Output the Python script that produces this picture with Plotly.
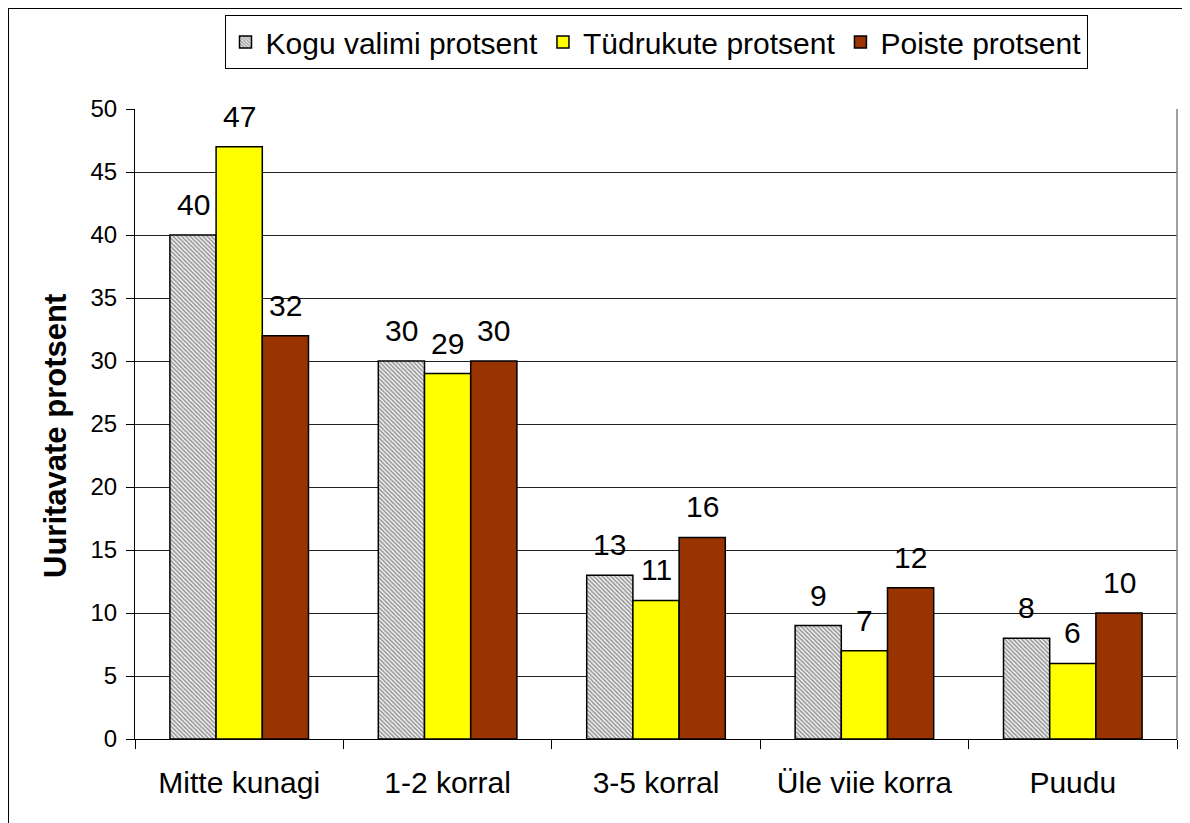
import plotly.graph_objects as go

categories = ['Mitte kunagi', '1-2 korral', '3-5 korral', 'Üle viie korra', 'Puudu']
kogu = [40, 30, 13, 9, 8]
tudrukud = [47, 29, 11, 7, 6]
poisid = [32, 30, 16, 12, 10]
y_ticks = [0, 5, 10, 15, 20, 25, 30, 35, 40, 45, 50]

FONT = "Liberation Sans, Arial, sans-serif"

# page has an 8px body margin, so the figure sits at (8, 8)
W, H = 1182, 815
L, R, T, B = 127, 13, 101, 84
pw, ph = W - L - R, H - T - B
BARGAP = 0.335

series = [
    ('Kogu valimi protsent', kogu, '#d0d0d0',
     dict(shape='\\', fgcolor='#333333', bgcolor='#f4f4f4', size=3, solidity=0.5)),
    ('Tüdrukute protsent', tudrukud, '#ffff00', None),
    ('Poiste protsent', poisid, '#993300', None),
]

fig = go.Figure()
bw = (1 - BARGAP) / len(series)
for j, (name, values, color, pattern) in enumerate(series):
    marker = dict(color=color, line=dict(color='black', width=1.5))
    if pattern:
        marker['pattern'] = pattern
    fig.add_trace(go.Bar(x=categories, y=values, name=name, marker=marker))
    # value labels above each bar
    for i, v in enumerate(values):
        fig.add_annotation(x=i + (j - 1) * bw, y=v, xref='x', yref='y',
                           text=str(v), showarrow=False, yanchor='bottom',
                           yshift=12, font=dict(size=30, color='black'))

# y axis title (Excel puts it a bit below the middle)
fig.add_annotation(x=(47 - L) / pw, y=1 - (428 - T) / ph, xref='paper', yref='paper',
                   xanchor='center', yanchor='middle',
                   text='<b>Uuritavate protsent</b>', textangle=-90, showarrow=False,
                   font=dict(size=31, color='black'))

fig.update_layout(
    width=W, height=H,
    margin=dict(l=L, r=R, t=T, b=B),
    paper_bgcolor='white', plot_bgcolor='white',
    barmode='group', bargap=BARGAP, bargroupgap=0,
    font=dict(family=FONT, color='black'),
    legend=dict(
        orientation='h', x=0.5, xanchor='center',
        yref='container', y=1 - 7 / H, yanchor='top',
        bordercolor='black', borderwidth=1, bgcolor='white',
        font=dict(size=30, family=FONT),
        traceorder='normal',
    ),
    shapes=[dict(type='rect', xref='paper', yref='paper',
                 x0=-L / pw, x1=1 + (R + 20) / pw, y0=-(B + 20) / ph, y1=1 + T / ph,
                 line=dict(color='black', width=2), fillcolor='rgba(0,0,0,0)',
                 layer='below')],
)

fig.update_yaxes(
    range=[0, 50], tickvals=y_ticks, ticks='outside', ticklen=8, tickcolor='black',
    showgrid=True, gridcolor='#222222', gridwidth=1,
    showline=True, linecolor='black', linewidth=1,
    tickfont=dict(size=24), zeroline=False, ticklabelstandoff=4,
)
fig.update_xaxes(
    tickson='boundaries', ticks='outside', ticklen=9, tickcolor='black',
    showline=True, linecolor='black', linewidth=1, mirror=False,
    tickfont=dict(size=30), ticklabelstandoff=17,
)
fig.add_shape(type='line', xref='paper', yref='paper', x0=1, x1=1, y0=0, y1=1,
              line=dict(color='#808080', width=1.5))

fig.write_html("out.html")
